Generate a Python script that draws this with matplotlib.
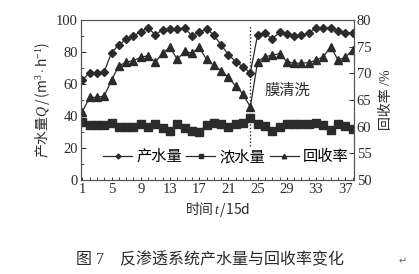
import matplotlib

matplotlib.use("Agg")
import matplotlib.pyplot as plt
from matplotlib.ticker import MultipleLocator

plt.rcParams["font.family"] = ["Liberation Serif", "Noto Sans CJK SC"]
plt.rcParams["mathtext.fontset"] = "custom"
plt.rcParams["mathtext.rm"] = "Liberation Serif"
plt.rcParams["mathtext.it"] = "Liberation Serif:italic"

# time index, unit 15 d
days = list(range(1, 39))
# 产水量, m3/h (left axis)
product = [62.5, 67, 67, 67.7, 79.6, 84.4, 88, 90, 92.8, 95,
           90.8, 94, 94.5, 94.6, 94.8, 90.3, 92.2, 94.6, 90.6, 84.4,
           78.3, 74, 70.6, 67, 90.8, 91.6, 88.2, 92.3, 91.5, 90,
           90.6, 92, 95, 95, 95, 93, 92, 92]
# 浓水量, m3/h (left axis)
concentrate = [36.5, 34.4, 34.4, 34.4, 35.4, 33.3, 33.3, 33.3, 34.8, 33.3,
               34.8, 32.3, 30.8, 34.8, 32.3, 30.8, 30, 34.6, 35.8, 35,
               33.3, 35, 35.8, 38.5, 35, 33.7, 30.8, 32.9, 35, 35,
               35, 35, 35.8, 34.4, 31.3, 35, 33.7, 31.7]
# 回收率, % (right axis)
recovery = [62.8, 65.5, 65.5, 65.75, 68.75, 71.4, 72.1, 72.4, 73, 73.3,
            72.1, 73.8, 74.9, 72.6, 74.1, 73.8, 74.9, 72.6, 71.5, 70.5,
            69.25, 67.6, 66.1, 63.7, 72.2, 73.1, 73.4, 73.7, 72.2, 71.9,
            71.9, 72, 72.5, 73.1, 75, 72.5, 73, 74.4]
clean_day = 24
xtick_days = [1, 5, 9, 13, 17, 21, 25, 29, 33, 37]

INK = "#2b2b2b"
CJK = "Noto Sans CJK SC"

fig = plt.figure(figsize=(4.19, 2.74), dpi=100)
ax = fig.add_axes([0.193, 0.343, 0.652, 0.584])
ax2 = ax.twinx()

h1, = ax.plot(days, product, color=INK, lw=0.9, marker="D", ms=4.2, label="产水量")
h2, = ax.plot(days, concentrate, color=INK, lw=0.9, marker="s", ms=5.2, label="浓水量")
h3, = ax2.plot(days, recovery, color=INK, lw=0.9, marker="^", ms=5.5, label="回收率")

# membrane cleaning marker
ax.plot([clean_day, clean_day], [21, 96], color=INK, lw=1.0, ls=(0, (1, 1.5)))
ax.text(29.1, 56, "膜清洗", ha="center", va="center", fontsize=11, color=INK)

ax.set_xlim(0.8, 38.2)
ax.set_ylim(0, 100)
ax2.set_ylim(50, 80)
ax.set_xticks(xtick_days)
ax.xaxis.set_minor_locator(MultipleLocator(1))
ax.yaxis.set_major_locator(MultipleLocator(20))
ax.yaxis.set_minor_locator(MultipleLocator(10))
ax2.yaxis.set_major_locator(MultipleLocator(5))

for a in (ax, ax2):
    a.tick_params(which="both", direction="in", labelsize=10.5, colors=INK, pad=2)
    a.tick_params(which="major", length=3.5, width=0.7)
    a.tick_params(which="minor", length=2, width=0.6)
    for s in a.spines.values():
        s.set_linewidth(0.8)
        s.set_color("#555555")
ax.tick_params(axis="x", which="major", length=2.5)

ax.set_ylabel(r"产水量$\it{Q}\,$/$\,$(m$^3\cdot$h$^{-1}$)", fontsize=10, color=INK,
              labelpad=3, family=CJK)
ax2.set_ylabel("回收率 /%", fontsize=10, color=INK, labelpad=6)
ax.set_xlabel(r"时间$\,\it{t}\,$/15d", fontsize=10, color=INK, labelpad=3, family=CJK)

ax2.legend(handles=[h1, h2, h3], loc="center", bbox_to_anchor=(0.53, 0.145), ncol=3,
           frameon=False, fontsize=11, markerscale=0.6, handlelength=1.9,
           handletextpad=0.25, columnspacing=0.3, borderpad=0)

fig.text(0.5, 0.05, "图 7    反渗透系统产水量与回收率变化", ha="center", va="center",
         fontsize=11.5, color=INK)
fig.text(0.962, 0.045, "↵", ha="center", va="center", fontsize=7, color="#666666",
         family="DejaVu Sans")

fig.savefig("out.png", dpi=100)
